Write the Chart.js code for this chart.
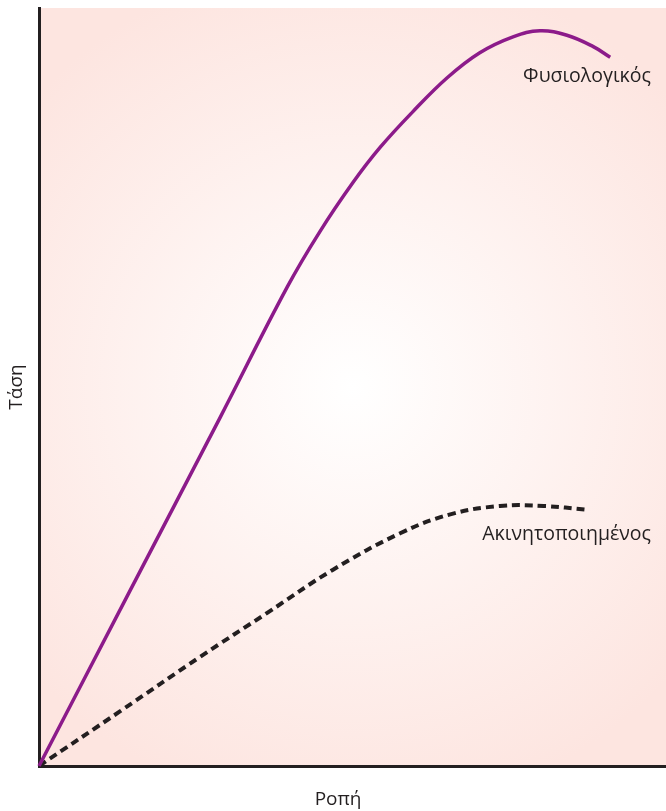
<!DOCTYPE html>
<html lang="el">
<head>
<meta charset="UTF-8">
<title>Τάση - Ροπή</title>
<style>
    html, body { margin: 0; padding: 0; background: #fff; }
    #wrap { width: 666px; height: 811px; }
</style>
</head>
<body>
<div id="wrap"><canvas id="chart" width="666" height="811"></canvas></div>
<script src="https://cdn.jsdelivr.net/npm/chart.js"></script>
<script>
    // values (arbitrary units, 0-100 on both axes)
    const normalX = [0, 14.5, 28.9, 39.6, 44.8, 50.1, 54.4, 59.6, 65.1, 70.3, 75.6, 79.9, 84.2, 88.4, 91.1];
    const normalY = [0, 23.1, 46.0, 63.2, 70.5, 77.0, 81.6, 86.3, 90.8, 94.1, 96.2, 97.0, 96.4, 94.9, 93.5];

    const immobX = [0, 12.9, 25.7, 36.4, 46.9, 57.6, 65.6, 73.5, 80.5, 87.4];
    const immobY = [0, 7.2, 14.4, 20.2, 25.9, 30.7, 33.2, 34.3, 34.3, 33.8];

    const seriesNames = ['Φυσιολογικός', 'Ακινητοποιημένος'];
    const xTitle = 'Ροπή';
    const yTitle = 'Τάση';

    const toPoints = (xs, ys) => xs.map((x, i) => ({ x: x, y: ys[i] }));

    const FONT = '"Open Sans", "Noto Sans", sans-serif';
    const ink = '#231f20';

    // radial pink background behind the plot
    const bgPlugin = {
        id: 'bg',
        beforeDraw(chart) {
            const { ctx, chartArea: a } = chart;
            const cx = a.left + (a.right - a.left) * 0.5;
            const cy = a.top + (a.bottom - a.top) * 0.5;
            const g = ctx.createRadialGradient(cx, cy, 0, cx, cy, 430);
            g.addColorStop(0, '#ffffff');
            g.addColorStop(1, '#fde5e0');
            ctx.save();
            ctx.fillStyle = g;
            ctx.fillRect(a.left, a.top, a.right - a.left, a.bottom - a.top);
            ctx.restore();
        }
    };

    // curve names next to the line ends, and the x axis name
    const namePlugin = {
        id: 'names',
        afterDatasetsDraw(chart) {
            const { ctx, scales: { x, y } } = chart;
            ctx.save();
            ctx.fillStyle = ink;
            ctx.font = '19.5px ' + FONT;
            ctx.textBaseline = 'middle';
            ctx.textAlign = 'right';
            ctx.fillText(seriesNames[0], x.getPixelForValue(97.6), y.getPixelForValue(91.0));
            ctx.fillText(seriesNames[1], x.getPixelForValue(97.6), y.getPixelForValue(30.5));
            ctx.textAlign = 'center';
            ctx.font = '19px ' + FONT;
            ctx.fillText(xTitle, x.getPixelForValue(47.7), y.bottom + 34);
            ctx.restore();
        }
    };

    new Chart(document.getElementById('chart'), {
        type: 'scatter',
        data: {
            datasets: [{
                label: seriesNames[0],
                data: toPoints(normalX, normalY),
                showLine: true,
                borderColor: '#8c1b8a',
                borderWidth: 3.5,
                pointRadius: 0,
                tension: 0.4,
                clip: false
            }, {
                label: seriesNames[1],
                data: toPoints(immobX, immobY),
                showLine: true,
                borderColor: ink,
                borderWidth: 4,
                borderDash: [8, 5],
                pointRadius: 0,
                tension: 0.4,
                clip: false
            }]
        },
        options: {
            responsive: false,
            animation: false,
            layout: { padding: { top: 8, right: 0, left: 0, bottom: 0 } },
            plugins: {
                legend: { display: false },
                tooltip: { enabled: false }
            },
            scales: {
                x: {
                    type: 'linear',
                    min: 0,
                    max: 100,
                    grid: { display: false },
                    border: { display: true, color: ink, width: 3 },
                    ticks: { display: false },
                    afterFit: s => { s.height = 45; }
                },
                y: {
                    type: 'linear',
                    min: 0,
                    max: 100,
                    grid: { display: false },
                    border: { display: true, color: ink, width: 3 },
                    ticks: { display: false },
                    title: {
                        display: true,
                        text: yTitle,
                        color: ink,
                        font: { family: FONT, size: 19 },
                        padding: { top: 5, bottom: 5 }
                    },
                    afterFit: s => { s.width = 39; }
                }
            }
        },
        plugins: [bgPlugin, namePlugin]
    });
</script>
</body>
</html>
